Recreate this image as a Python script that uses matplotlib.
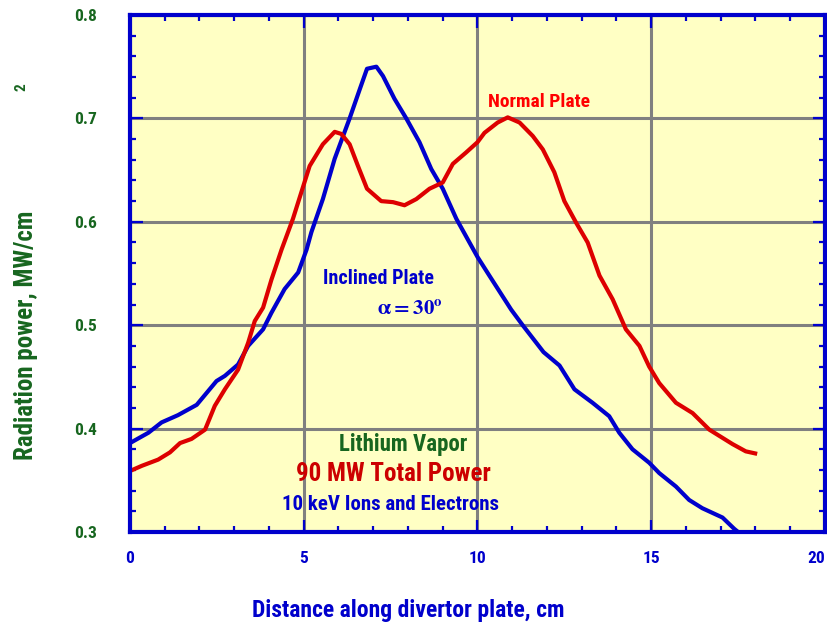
import matplotlib
matplotlib.use('Agg')
import matplotlib.pyplot as plt
from matplotlib.ticker import MultipleLocator, FormatStrFormatter

plt.rcParams['font.family'] = ['Roboto Condensed', 'Asap Condensed', 'Liberation Sans', 'DejaVu Sans']
plt.rcParams['font.weight'] = 'bold'

# Inclined plate (blue)
incl_x = [0.0, 0.53, 0.91, 1.38, 1.92, 2.49, 2.73, 3.11, 3.40, 3.83, 4.07, 4.45, 4.84, 5.08,
          5.22, 5.55, 5.89, 6.32, 6.61, 6.82, 7.09, 7.28, 7.61, 7.95, 8.33, 8.67, 9.00, 9.39,
          9.67, 10.0, 10.34, 10.97, 11.3, 11.9, 12.36, 12.79, 13.31, 13.79, 14.08, 14.46,
          14.94, 15.23, 15.71, 16.09, 16.47, 17.05, 17.39, 17.5]
incl_y = [0.386, 0.396, 0.406, 0.413, 0.423, 0.446, 0.451, 0.462, 0.480, 0.496, 0.512, 0.535,
          0.551, 0.573, 0.590, 0.622, 0.661, 0.700, 0.728, 0.748, 0.750, 0.741, 0.719, 0.700,
          0.677, 0.651, 0.632, 0.603, 0.586, 0.566, 0.548, 0.515, 0.500, 0.474, 0.461, 0.438,
          0.425, 0.412, 0.396, 0.380, 0.367, 0.357, 0.344, 0.331, 0.323, 0.314, 0.303, 0.300]

# Normal plate (red)
norm_x = [0.0, 0.34, 0.81, 1.15, 1.44, 1.77, 2.16, 2.44, 2.73, 3.11, 3.40, 3.59, 3.83, 4.07,
          4.36, 4.69, 5.17, 5.55, 5.89, 6.08, 6.32, 6.56, 6.82, 7.23, 7.57, 7.90, 8.24, 8.62,
          9.0, 9.29, 9.67, 10.0, 10.2, 10.58, 10.87, 11.21, 11.59, 11.88, 12.21, 12.5, 12.84,
          13.17, 13.51, 13.89, 14.27, 14.66, 14.94, 15.23, 15.71, 16.19, 16.67, 17.34, 17.72, 17.99]
norm_y = [0.359, 0.364, 0.370, 0.377, 0.386, 0.390, 0.399, 0.422, 0.438, 0.457, 0.483, 0.504,
          0.517, 0.544, 0.573, 0.603, 0.654, 0.675, 0.687, 0.685, 0.675, 0.654, 0.632, 0.620,
          0.619, 0.616, 0.622, 0.632, 0.638, 0.656, 0.667, 0.677, 0.686, 0.696, 0.701, 0.696,
          0.683, 0.670, 0.648, 0.620, 0.599, 0.580, 0.548, 0.525, 0.496, 0.480, 0.460, 0.444,
          0.425, 0.415, 0.399, 0.385, 0.378, 0.376]

green = '#17661f'
blue = '#0000cc'
red = '#dd0000'

fig = plt.figure(figsize=(8.28, 6.29), dpi=100)
ax = fig.add_axes([130/828, 1 - 532/629, 695/828, 517/629])
ax.set_facecolor('#ffffc4')

ax.plot(incl_x, incl_y, color=blue, lw=3, zorder=3)
ax.plot(norm_x, norm_y, color=red, lw=3, zorder=3)

ax.set_xlim(0, 20)
ax.set_ylim(0.3, 0.8)
ax.xaxis.set_major_locator(MultipleLocator(5))
ax.xaxis.set_minor_locator(MultipleLocator(1))
ax.yaxis.set_major_locator(MultipleLocator(0.1))
ax.yaxis.set_minor_locator(MultipleLocator(0.02))
ax.yaxis.set_major_formatter(FormatStrFormatter('%.1f'))
ax.grid(True, which='major', color='#808080', lw=2.2, zorder=1)

for s in ax.spines.values():
    s.set_color(blue)
    s.set_linewidth(3)
    s.set_zorder(4)

ax.tick_params(which='both', direction='in', top=True, right=True, color=blue, width=1.6)
ax.tick_params(which='major', length=9)
ax.tick_params(which='minor', length=4)
ax.tick_params(axis='y', which='major', pad=24, labelsize=12.5, labelcolor=green)
ax.tick_params(axis='x', which='major', pad=14, labelsize=12.5, labelcolor=blue)

# last x label sits flush with the right edge
fig.canvas.draw()
for t in ax.xaxis.get_major_ticks():
    if abs(t.get_loc() - 20) < 1e-6:
        t.label1.set_horizontalalignment('right')

ax.set_xlabel('Distance along divertor plate, cm', color=blue, fontsize=17, fontweight='bold')
ax.xaxis.set_label_coords(0.40, -0.13)
ax.set_ylabel('Radiation power, MW/cm', color=green, fontsize=18, fontweight='bold')
ax.yaxis.set_label_coords(-0.132, 0.381)
fig.text(22/828, 1 - 87/629, '2', color=green, fontsize=11, rotation=90, ha='center', va='center')

ax.text(11.78, 0.716, 'Normal Plate', color='#ff0000', fontsize=14, ha='center', va='center')
ax.text(7.14, 0.545, 'Inclined Plate', color=blue, fontsize=14.5, ha='center', va='center')
ax.text(8.06, 0.516, r'$\mathrm{\alpha = 30^{o}}$', color=blue, fontsize=15, ha='center', va='center',
        math_fontfamily='stix')
ax.text(7.86, 0.385, 'Lithium Vapor', color=green, fontsize=16.5, ha='center', va='center')
ax.text(7.57, 0.356, '90 MW Total Power', color='#cc0000', fontsize=18, ha='center', va='center')
ax.text(7.49, 0.327, '10 keV Ions and Electrons', color=blue, fontsize=15, ha='center', va='center')

fig.savefig('out.png', dpi=100)
